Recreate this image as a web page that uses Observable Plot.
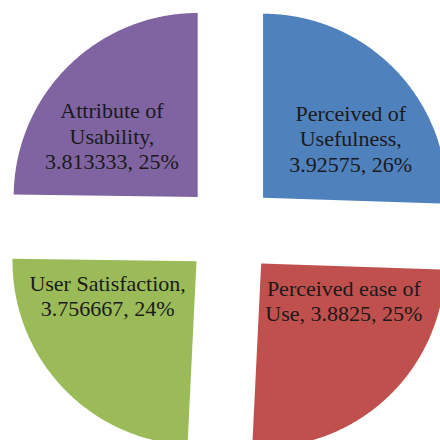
<!DOCTYPE html>
<html>
<head>
<meta charset="utf-8">
<script src="https://cdn.jsdelivr.net/npm/d3@7"></script>
<script src="https://cdn.jsdelivr.net/npm/@observablehq/plot@0.6"></script>
<style>
  html, body { margin: 0; padding: 0; background: #fff; overflow: hidden; }
  #chart svg { display: block; }
</style>
</head>
<body>
<div id="chart"></div>
<script>
// ---- data ----
const categories = ["Perceived of Usefulness", "Perceived ease of Use", "User Satisfaction", "Attribute of Usability"];
const values = [3.92575, 3.8825, 3.756667, 3.813333];
const colors = ["#4F81BD", "#C0504D", "#9BBB59", "#8064A2"];

// ---- layout ----
const W = 440, H = 440;
const R = 184;            // pie radius (px)
const explode = 0.25;     // slice explosion as fraction of radius
const cx = 229.5, cy = 229.2; // pie centre in page pixels
const fontSize = 22;
const fontFamily = "'Liberation Serif', 'Times New Roman', serif";
const wrapWidth = 162;

const total = d3.sum(values);
const pct = values.map(v => Math.round(v / total * 100) + "%");

const slices = d3.pie().sort(null).value(d => d.value)(
  categories.map((c, i) => ({category: c, value: values[i], pct: pct[i]}))
);

// greedy word wrap using real font metrics
const ctx = document.createElement("canvas").getContext("2d");
ctx.font = `${fontSize}px ${fontFamily}`;
function wrap(str) {
  const words = str.split(" ");
  const lines = [];
  let cur = "";
  for (const w of words) {
    const t = cur ? cur + " " + w : w;
    if (cur && ctx.measureText(t).width > wrapWidth) { lines.push(cur); cur = w; }
    else cur = t;
  }
  if (cur) lines.push(cur);
  return lines.join("\n");
}

const polys = [];
const labels = [];
for (const s of slices) {
  const mid = (s.startAngle + s.endAngle) / 2;
  const ox = explode * R * Math.sin(mid);
  const oy = explode * R * Math.cos(mid);
  const category = s.data.category;
  polys.push({category, x: ox, y: oy});
  const n = Math.ceil((s.endAngle - s.startAngle) / (Math.PI / 360));
  for (let k = 0; k <= n; k++) {
    const a = s.startAngle + (s.endAngle - s.startAngle) * k / n;
    polys.push({category, x: ox + R * Math.sin(a), y: oy + R * Math.cos(a)});
  }
  const c = Math.cos(mid);
  labels.push({
    category,
    x: ox + 122 * Math.sin(mid),
    y: oy + (c > 0 ? 86 : 50) * c,
    text: wrap(`${category}, ${s.data.value}, ${s.data.pct}`)
  });
}

const chart = Plot.plot({
  width: W,
  height: H,
  margin: 0,
  style: {background: "#fff"},
  x: {domain: [-cx, W - cx], axis: null},
  y: {domain: [-(H - cy), cy], axis: null},
  color: {domain: categories, range: colors},
  marks: [
    Plot.line(polys, {x: "x", y: "y", z: "category", fill: "category", stroke: "none", curve: "linear-closed"}),
    Plot.text(labels, {
      x: "x", y: "y", text: "text",
      fontSize, fontFamily,
      fill: "#1a1a1a",
      lineHeight: 1.16,
      lineAnchor: "middle",
      textAnchor: "middle"
    })
  ]
});
document.getElementById("chart").appendChild(chart);
</script>
</body>
</html>
